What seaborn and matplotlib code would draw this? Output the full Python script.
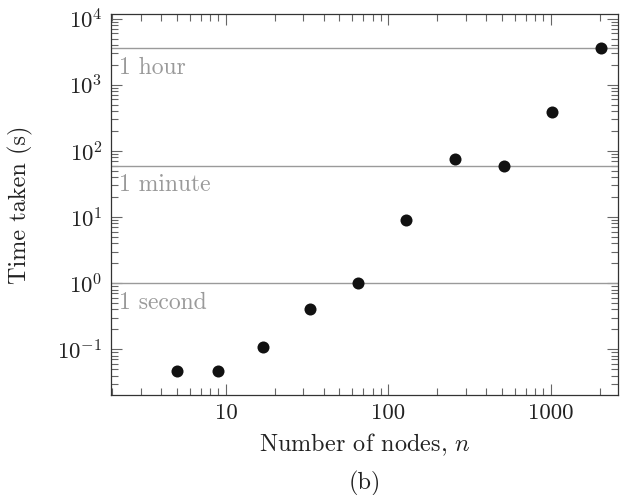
import numpy as np
import pandas as pd
import matplotlib
matplotlib.use("Agg")
import matplotlib.pyplot as plt
import seaborn as sns
from matplotlib.ticker import LogLocator, FixedLocator, FixedFormatter, NullFormatter

# Data
nodes = [5, 9, 17, 33, 65, 129, 257, 513, 1025, 2049]
time_taken = [0.047, 0.047, 0.108, 0.41, 1.02, 9.1, 75, 59.5, 390, 3550]
ref_lines = [1, 60, 3600]
ref_labels = ["1 second", "1 minute", "1 hour"]
x_ticks = [10, 100, 1000]
x_tick_labels = ["10", "100", "1000"]

df = pd.DataFrame({"n": nodes, "t": time_taken})

sns.set_style("ticks")
plt.rcParams["font.family"] = ["cmr10", "DejaVu Serif"]
plt.rcParams["mathtext.fontset"] = "cm"
plt.rcParams["axes.formatter.use_mathtext"] = True
plt.rcParams["axes.unicode_minus"] = False

fig = plt.figure(figsize=(6.2, 4.95), dpi=100)
ax = fig.add_axes([0.179, 0.202, 0.818, 0.770])

GRAY = "#9a9a9a"
for val, lab in zip(ref_lines, ref_labels):
    ax.axhline(val, color=GRAY, lw=1.0, zorder=1)
    ax.text(2.2, val * 0.74, lab, color=GRAY, fontsize=17, va="top", ha="left")

sns.scatterplot(data=df, x="n", y="t", ax=ax, color="#111111", s=75,
                edgecolor="#111111", linewidth=0, zorder=3)

ax.set_xscale("log")
ax.set_yscale("log")
ax.set_xlim(1.96, 2600)
ax.set_ylim(0.0203, 11800)

ax.xaxis.set_major_locator(FixedLocator(x_ticks))
ax.xaxis.set_major_formatter(FixedFormatter(x_tick_labels))
ax.xaxis.set_minor_locator(LogLocator(base=10, subs=np.arange(2, 10)))
ax.xaxis.set_minor_formatter(NullFormatter())
ax.yaxis.set_major_locator(LogLocator(base=10, numticks=10))
ax.yaxis.set_minor_locator(LogLocator(base=10, subs=np.arange(2, 10), numticks=10))
ax.yaxis.set_minor_formatter(NullFormatter())

ax.tick_params(which="both", direction="in", top=True, right=True,
               colors="#666666", labelcolor="#222222", labelsize=16.5, width=0.8)
ax.tick_params(which="major", length=8, pad=6)
ax.tick_params(which="minor", length=5)

for sp in ax.spines.values():
    sp.set_visible(True)
    sp.set_color("#333333")
    sp.set_linewidth(0.9)

ax.set_xlabel("Number of nodes, $n$", fontsize=17.5, color="#222222")
ax.set_ylabel("Time taken (s)", fontsize=17.5, color="#222222")
ax.xaxis.label.set_va("center")
ax.yaxis.label.set_va("center")
ax.xaxis.set_label_coords(0.5, -0.131)
ax.yaxis.set_label_coords(-0.179, 0.5)
fig.text(0.588, 0.024, "(b)", fontsize=17.5, color="#222222", ha="center", va="center")

fig.savefig("out.png", dpi=100)
